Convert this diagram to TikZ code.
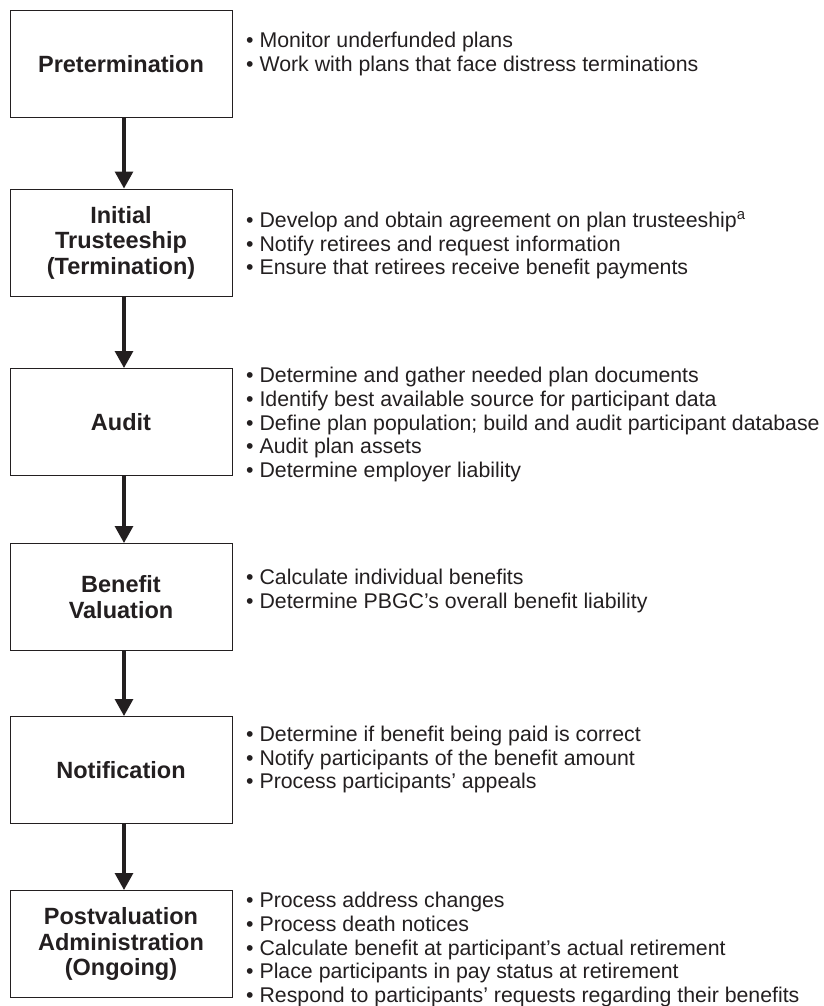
\documentclass[tikz,border=0pt]{standalone}
\usepackage{fontspec}
\setmainfont{Liberation Sans}
\usetikzlibrary{arrows.meta}
\definecolor{ink}{HTML}{231F20}
\tikzset{
  stagebox/.style={draw=ink, line width=1pt, minimum width=222pt, minimum height=107pt,
    align=center, text=ink, inner sep=0pt, font=\fontsize{23.5}{25.5}\selectfont\bfseries},
  bullets/.style={anchor=west, align=left, text=ink, inner sep=0pt,
    font=\fontsize{21.3}{23.6}\selectfont},
  flow/.style={draw=ink, line width=3.1pt, -{Triangle[width=18pt,length=17pt]}}
}
\begin{document}
\begin{tikzpicture}[x=1pt,y=-1pt]
\useasboundingbox (0,0) rectangle (823,1006);

\node[stagebox] (b1) at (121,64.5) {Pretermination};
\node[stagebox] (b2) at (121,242.5) {Initial\\Trusteeship\\(Termination)};
\node[stagebox] (b3) at (121,422) {Audit};
\node[stagebox] (b4) at (121,597) {Benefit\\Valuation};
\node[stagebox] (b5) at (121,770) {Notification};
\node[stagebox] (b6) at (121,944) {Postvaluation\\Administration\\(Ongoing)};

\draw[flow] ([xshift=3pt]b1.south) -- ([xshift=3pt]b2.north);
\draw[flow] ([xshift=3pt]b2.south) -- ([xshift=3pt]b3.north);
\draw[flow] ([xshift=3pt]b3.south) -- ([xshift=3pt]b4.north);
\draw[flow] ([xshift=3pt]b4.south) -- ([xshift=3pt]b5.north);
\draw[flow] ([xshift=3pt]b5.south) -- ([xshift=3pt]b6.north);

\node[bullets] (t1) at (246,54) {• Monitor underfunded plans\\• Work with plans that face distress terminations};
\node[bullets] (t2) at (246,245.5) {• Develop and obtain agreement on plan trusteeship\textsuperscript{a}\\• Notify retirees and request information\\• Ensure that retirees receive benefit payments};
\node[bullets] (t3) at (246,424.5) {• Determine and gather needed plan documents\\• Identify best available source for participant data\\• Define plan population; build and audit participant database\\• Audit plan assets\\• Determine employer liability};
\node[bullets] (t4) at (246,591) {• Calculate individual benefits\\• Determine PBGC’s overall benefit liability};
\node[bullets] (t5) at (246,759.5) {• Determine if benefit being paid is correct\\• Notify participants of the benefit amount\\• Process participants’ appeals};
\node[bullets] (t6) at (246,949.5) {• Process address changes\\• Process death notices\\• Calculate benefit at participant’s actual retirement\\• Place participants in pay status at retirement\\• Respond to participants’ requests regarding their benefits};
\end{tikzpicture}
\end{document}
